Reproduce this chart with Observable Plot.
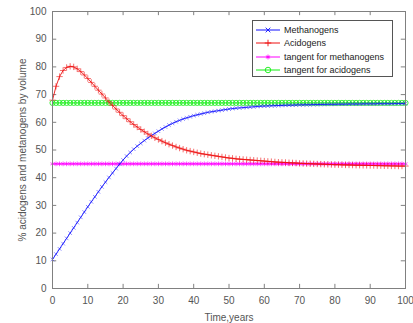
<!DOCTYPE html>
<html>
<head>
<meta charset="utf-8">
<script src="https://cdn.jsdelivr.net/npm/d3@7"></script>
<script src="https://cdn.jsdelivr.net/npm/@observablehq/plot@0.6"></script>
<style>
  html, body { margin: 0; padding: 0; background: #fff; }
  #wrap { position: relative; width: 413px; height: 323px; font-family: "Liberation Sans", Arial, sans-serif; }
  #legend { position: absolute; left: 252px; top: 20px; width: 141px; height: 57px; border: 1px solid #555; background: #fff; font-size: 9px; color: #222; box-sizing: border-box; padding-top: 2px; }
  #legend .row { display: flex; align-items: center; height: 13.5px; }
  #legend svg { margin-left: 2px; margin-right: 3px; }
</style>
</head>
<body>
<div id="wrap"><div id="chart"></div><div id="legend"></div></div>
<script>
const years = d3.range(0, 101);

const methanogens = [
  10.5, 12.4, 14.3, 16.2, 18.1, 20.0, 21.9, 23.8, 25.7, 27.6,
  29.5, 31.3, 33.1, 34.9, 36.7, 38.4, 40.1, 41.7, 43.3, 44.9,
  46.4, 47.8, 49.1, 50.3, 51.4, 52.4, 53.4, 54.3, 55.2, 56.0,
  56.8, 57.6, 58.3, 59.0, 59.6, 60.2, 60.7, 61.2, 61.6, 62.0,
  62.4, 62.7, 63.0, 63.3, 63.6, 63.8, 64.0, 64.2, 64.4, 64.6,
  64.8, 64.95, 65.1, 65.2, 65.3, 65.4, 65.5, 65.6, 65.7, 65.8,
  65.85, 65.9, 65.95, 66.0, 66.05, 66.1, 66.15, 66.2, 66.2, 66.25,
  66.3, 66.3, 66.35, 66.35, 66.4, 66.4, 66.45, 66.45, 66.5, 66.5,
  66.5, 66.55, 66.55, 66.55, 66.6, 66.6, 66.6, 66.6, 66.65, 66.65,
  66.65, 66.65, 66.7, 66.7, 66.7, 66.7, 66.7, 66.75, 66.75, 66.75,
  66.75
];

const acidogens = [
  68.0, 73.0, 76.5, 78.7, 79.8, 80.2, 80.0, 79.3, 78.3, 77.1,
  75.8, 74.4, 73.0, 71.6, 70.2, 68.8, 67.4, 66.1, 64.8, 63.6,
  62.4, 61.3, 60.2, 59.2, 58.3, 57.4, 56.6, 55.8, 55.1, 54.4,
  53.8, 53.2, 52.6, 52.1, 51.6, 51.1, 50.7, 50.3, 49.9, 49.6,
  49.3, 49.0, 48.7, 48.5, 48.3, 48.1, 47.9, 47.7, 47.5, 47.3,
  47.1, 47.0, 46.8, 46.7, 46.6, 46.5, 46.4, 46.3, 46.2, 46.1,
  46.0, 45.9, 45.8, 45.7, 45.6, 45.55, 45.5, 45.4, 45.35, 45.3,
  45.2, 45.15, 45.1, 45.05, 45.0, 44.95, 44.9, 44.85, 44.8, 44.75,
  44.7, 44.7, 44.65, 44.6, 44.6, 44.55, 44.5, 44.5, 44.45, 44.45,
  44.4, 44.4, 44.35, 44.35, 44.3, 44.3, 44.25, 44.25, 44.2, 44.2,
  44.2
];

const tangentMethanogens = 45;
const tangentAcidogens = 67;

const xTicks = [0, 10, 20, 30, 40, 50, 60, 70, 80, 90, 100];
const yTicks = [0, 10, 20, 30, 40, 50, 60, 70, 80, 90, 100];

const seriesNames = ["Methanogens", "Acidogens", "tangent for methanogens", "tangent for acidogens"];
const seriesColors = ["#1010ff", "#ee1010", "#ff00ff", "#11ee11"];
const seriesSymbols = ["times", "plus", "asterisk", "circle"];

const mData = years.map((t, i) => ({t, v: methanogens[i]}));
const aData = years.map((t, i) => ({t, v: acidogens[i]}));

const axisColor = "#808080";

const chart = Plot.plot({
  width: 413,
  height: 323,
  marginLeft: 52,
  marginRight: 8,
  marginTop: 11,
  marginBottom: 35,
  style: {fontFamily: "Liberation Sans, Arial, sans-serif", fontSize: "10px", color: "#444", background: "#fff"},
  x: {domain: [0, 100]},
  y: {domain: [0, 100]},
  marks: [
    Plot.axisX({ticks: xTicks, tickSize: 0, tickPadding: 8, fontSize: 10, fill: "#555", label: "Time,years", labelAnchor: "center", labelArrow: "none", labelOffset: 32, anchor: "bottom"}),
    Plot.axisY({ticks: yTicks, tickSize: 0, tickPadding: 6, fontSize: 10, fill: "#555", label: "% acidogens and metanogens by volume", labelAnchor: "center", labelArrow: "none", labelOffset: 34, anchor: "left"}),
    // inward ticks
    Plot.ruleX(xTicks, {y1: 0, y2: 1.5, stroke: axisColor}),
    Plot.ruleX(xTicks, {y1: 98.5, y2: 100, stroke: axisColor}),
    Plot.ruleY(yTicks, {x1: 0, x2: 1.2, stroke: axisColor}),
    Plot.ruleY(yTicks, {x1: 98.8, x2: 100, stroke: axisColor}),
    // tangent lines
    Plot.ruleY([tangentMethanogens], {stroke: seriesColors[2], strokeWidth: 1}),
    Plot.dot(years, {x: d => d, y: () => tangentMethanogens, symbol: seriesSymbols[2], stroke: seriesColors[2], r: 2.2, strokeWidth: 0.7}),
    Plot.ruleY([tangentAcidogens], {stroke: seriesColors[3], strokeWidth: 1}),
    Plot.dot(years, {x: d => d, y: () => tangentAcidogens, symbol: seriesSymbols[3], stroke: seriesColors[3], r: 2.6, strokeWidth: 0.8}),
    // curves
    Plot.line(mData, {x: "t", y: "v", stroke: seriesColors[0], strokeWidth: 0.9}),
    Plot.dot(mData, {x: "t", y: "v", symbol: seriesSymbols[0], stroke: seriesColors[0], r: 1.8, strokeWidth: 0.6, strokeOpacity: 0.8}),
    Plot.line(aData, {x: "t", y: "v", stroke: seriesColors[1], strokeWidth: 0.9}),
    Plot.dot(aData, {x: "t", y: "v", symbol: seriesSymbols[1], stroke: seriesColors[1], r: 2.2, strokeWidth: 0.7, strokeOpacity: 0.85}),
    Plot.frame({stroke: axisColor})
  ]
});
document.getElementById("chart").appendChild(chart);

// legend
const legend = document.getElementById("legend");
const symbolMap = {times: d3.symbolTimes, plus: d3.symbolPlus, asterisk: d3.symbolAsterisk, circle: d3.symbolCircle};
seriesNames.forEach((name, i) => {
  const row = document.createElement("div");
  row.className = "row";
  const s = d3.create("svg").attr("width", 26).attr("height", 10);
  s.append("line").attr("x1", 1).attr("x2", 25).attr("y1", 5).attr("y2", 5).attr("stroke", seriesColors[i]).attr("stroke-width", 1);
  s.append("path").attr("transform", "translate(13,5)")
    .attr("d", d3.symbol(symbolMap[seriesSymbols[i]], i === 3 ? 24 : 16)())
    .attr("fill", "none").attr("stroke", seriesColors[i]).attr("stroke-width", 0.9);
  row.appendChild(s.node());
  const span = document.createElement("span");
  span.textContent = name;
  row.appendChild(span);
  legend.appendChild(row);
});
</script>
</body>
</html>
